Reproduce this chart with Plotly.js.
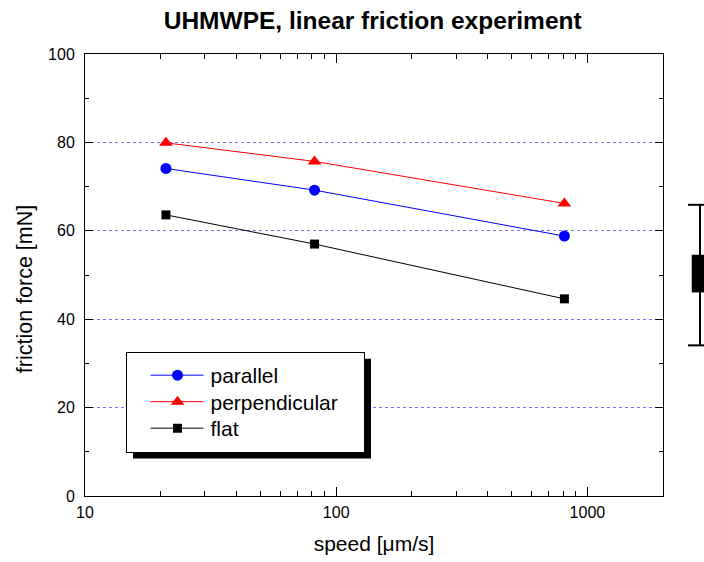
<!DOCTYPE html>
<html>
<head>
<meta charset="utf-8">
<script src="https://cdn.plot.ly/plotly-3.0.1.min.js"></script>
<style>html,body{margin:0;padding:0;background:#fff;}#chart{width:704px;height:562px;}</style>
</head>
<body>
<div id="chart"></div>
<script>
// Data
const speed = [21, 82, 810];
const parallel = [74.1, 69.2, 58.8];
const perpendicular = [79.9, 75.7, 66.2];
const flat = [63.6, 57.0, 44.6];
const seriesNames = ["parallel", "perpendicular", "flat"];
const xTickVals = [10, 100, 1000];
const xMinorVals = [20,30,40,50,60,70,80,90,200,300,400,500,600,700,800,900,2000];
const yTickVals = [0, 20, 40, 60, 80, 100];
const yMinorVals = [10, 30, 50, 70, 90];
const xTitle = "speed [μm/s]";
const yTitle = "friction force [mN]";
const chartTitle = "UHMWPE, linear friction experiment";

const font = "Arial, 'Liberation Sans', sans-serif";

const traces = [
  {x: speed, y: parallel, name: seriesNames[0], mode: "lines+markers",
   line: {color: "#0000ff", width: 1}, marker: {symbol: "circle", size: 11, color: "#0000ff"}},
  {x: speed, y: perpendicular, name: seriesNames[1], mode: "lines+markers",
   line: {color: "#ff0000", width: 1}, marker: {symbol: "triangle-up", size: 12, color: "#ff0000"}},
  {x: speed, y: flat, name: seriesNames[2], mode: "lines+markers",
   line: {color: "#000000", width: 1}, marker: {symbol: "square", size: 9, color: "#000000"}}
];

// legend box geometry (px) as in the reference
const LEG = {left: 126, top: 352, width: 238, height: 100, shadow: 7};
const PL = {l: 85, t: 54, w: 578, h: 442.5};
const px2x = px => (px - PL.l) / PL.w;
const px2y = py => 1 - (py - PL.t) / PL.h;

const layout = {
  width: 704, height: 562,
  margin: {l: 85, r: 41, t: 54, b: 65.5},
  paper_bgcolor: "#fff", plot_bgcolor: "#fff",
  font: {family: font, size: 16, color: "#000"},
  title: {text: "<b>" + chartTitle + "</b>", xref: "container", x: 0.5294, xanchor: "center",
          yref: "container", y: 0.963, yanchor: "middle",
          font: {family: font, size: 24.5, color: "#000"}},
  xaxis: {
    type: "log", range: [1, Math.log10(2000)],
    tickmode: "array", tickvals: xTickVals, ticktext: xTickVals.map(String),
    ticks: "inside", ticklen: 9, tickwidth: 1, tickcolor: "#000",
    minor: {tickmode: "array", tickvals: xMinorVals, ticks: "inside", ticklen: 5, tickwidth: 1, tickcolor: "#000", showgrid: false},
    showline: true, linecolor: "#000", linewidth: 1, mirror: "ticks",
    showgrid: false, zeroline: false,
    tickfont: {size: 16}, ticklabelstandoff: 2,
    title: {text: xTitle, font: {size: 21}, standoff: 16}
  },
  yaxis: {
    range: [0, 100],
    tickmode: "array", tickvals: yTickVals,
    ticks: "inside", ticklen: 8, tickwidth: 1, tickcolor: "#000",
    minor: {tickmode: "array", tickvals: yMinorVals, ticks: "inside", ticklen: 4, tickwidth: 1, tickcolor: "#000", showgrid: false},
    showline: true, linecolor: "#000", linewidth: 1, mirror: "ticks",
    showgrid: true, gridcolor: "#7070ff", gridwidth: 1, griddash: "dot", zeroline: false,
    tickfont: {size: 16}, ticklabelstandoff: 6
  },
  annotations: [
    {text: yTitle, textangle: -90, xref: "paper", yref: "paper", x: px2x(25), y: px2y(289.5),
     xanchor: "center", yanchor: "middle", showarrow: false, font: {family: font, size: 21.5, color: "#000"}}
  ],
  showlegend: true,
  legend: {
    x: px2x(LEG.left), y: px2y(LEG.top), xanchor: "left", yanchor: "top",
    bgcolor: "#fff", bordercolor: "#000", borderwidth: 1,
    font: {family: font, size: 21, color: "#000"},
    itemwidth: 70
  },
  shapes: [
    // legend drop shadow
    {type: "rect", xref: "paper", yref: "paper",
     x0: px2x(LEG.left + LEG.shadow), x1: px2x(LEG.left + LEG.width + LEG.shadow),
     y0: px2y(LEG.top + LEG.height + LEG.shadow), y1: px2y(LEG.top + LEG.shadow),
     fillcolor: "#000", line: {width: 0}, layer: "above"},
    // decorative box glyph on the right edge
    {type: "line", xref: "paper", yref: "paper", x0: 1.064, x1: 1.064, y0: 0.3408, y1: 0.6588, line: {color: "#000", width: 2}},
    {type: "line", xref: "paper", yref: "paper", x0: 1.0433, x1: 1.08, y0: 0.6588, y1: 0.6588, line: {color: "#000", width: 2}},
    {type: "line", xref: "paper", yref: "paper", x0: 1.0433, x1: 1.08, y0: 0.3408, y1: 0.3408, line: {color: "#000", width: 2}},
    {type: "rect", xref: "paper", yref: "paper", x0: 1.0497, x1: 1.08, y0: 0.4606, y1: 0.5458, fillcolor: "#000", line: {color: "#000", width: 0}}
  ]
};

Plotly.newPlot("chart", traces, layout, {displayModeBar: false, staticPlot: true}).then(function (gd) {
  const bg = gd.querySelector(".legend .bg");
  if (!bg) return;
  bg.setAttribute("width", LEG.width);
  bg.setAttribute("height", LEG.height);
  const bgLeft = bg.getBoundingClientRect().left;
  const bgTop = bg.getBoundingClientRect().top;
  const rows = [23, 49.5, 76];
  gd.querySelectorAll(".legend .traces").forEach(function (tr, i) {
    const m = tr.getCTM();
    const o = m.e - bgLeft;
    const curY = m.f - bgTop;
    const tf = tr.getAttribute("transform") || "";
    const mt = /translate\(\s*([-\d.]+)[ ,]+([-\d.]+)/.exec(tf);
    if (mt && rows[i] !== undefined) {
      tr.setAttribute("transform", "translate(" + mt[1] + "," + (parseFloat(mt[2]) + rows[i] - curY) + ")");
    }
    tr.querySelectorAll(".legendlines path").forEach(p => p.setAttribute("d", "M" + (24 - o) + ",0h53"));
    tr.querySelectorAll(".legendsymbols .legendpoints path").forEach(p => p.setAttribute("transform", "translate(" + (51 - o) + ",0)"));
    const t = tr.querySelector("text.legendtext");
    if (t) t.setAttribute("x", 84 - o);
  });
});
</script>
</body>
</html>
